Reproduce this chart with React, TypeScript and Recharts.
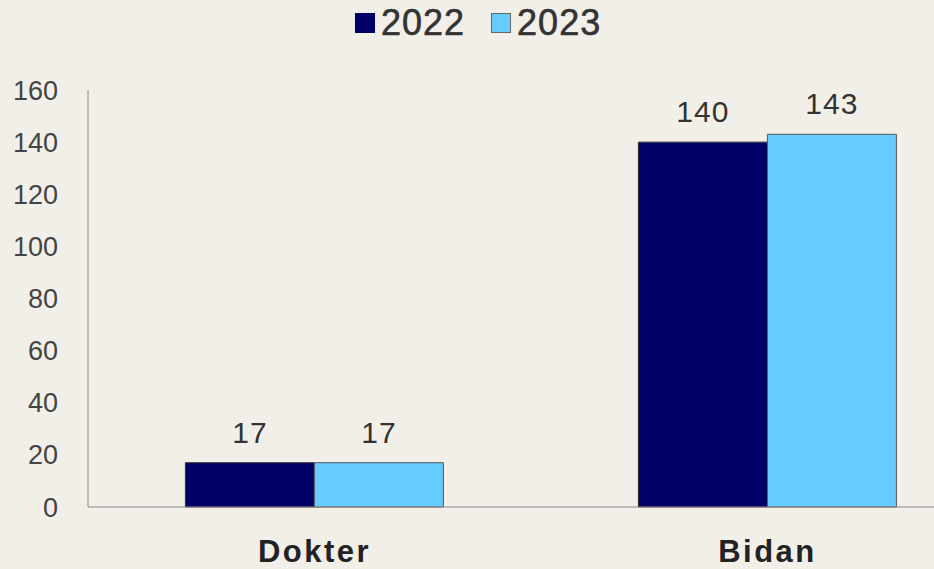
import { BarChart, Bar, XAxis, YAxis, LabelList } from "recharts";

const categories = ["Dokter", "Bidan"];
const values2022 = [17, 140];
const values2023 = [17, 143];
const yTicks = [0, 20, 40, 60, 80, 100, 120, 140, 160];

const data = categories.map((name, i) => ({
    name,
    y2022: values2022[i],
    y2023: values2023[i],
}));

const FONT = "'Liberation Sans', Arial, sans-serif";

export default function App() {
    return (
        <div
            style={{
                position: "fixed",
                left: 0,
                top: 0,
                width: 934,
                height: 569,
                overflow: "hidden",
                background: "#f2efe9",
                fontFamily: FONT,
            }}
        >
            {/* legend */}
            <div
                style={{
                    position: "absolute",
                    top: 2,
                    left: 355,
                    display: "flex",
                    alignItems: "center",
                    fontSize: 36,
                    color: "#333",
                    letterSpacing: 1,
                    WebkitTextStroke: "0.6px #333",
                }}
            >
                <span style={{ width: 20, height: 20, background: "#000066", display: "inline-block", marginRight: 6 }} />
                <span>2022</span>
                <span
                    style={{
                        width: 18,
                        height: 18,
                        background: "#66ccff",
                        border: "1px solid #666",
                        display: "inline-block",
                        marginLeft: 26,
                        marginRight: 6,
                    }}
                />
                <span>2023</span>
            </div>

            <BarChart
                width={1000}
                height={569}
                data={data}
                margin={{ top: 90, right: 6, bottom: 0, left: 28 }}
                barCategoryGap="21.5%"
                barGap={0}
            >
                <YAxis
                    width={60}
                    domain={[0, 160]}
                    ticks={yTicks}
                    interval={0}
                    axisLine={{ stroke: "#8a8a8a" }}
                    tickLine={false}
                    tickSize={0}
                    tickMargin={30}
                    tick={{ fill: "#444", fontSize: 27, fontFamily: FONT }}
                />
                <XAxis
                    dataKey="name"
                    height={62}
                    axisLine={{ stroke: "#8a8a8a" }}
                    tickLine={false}
                    tickSize={0}
                    tickMargin={33}
                    tick={{ fill: "#222", fontSize: 31, fontWeight: "bold", fontFamily: FONT, letterSpacing: 2.5 }}
                />
                <Bar dataKey="y2022" fill="#000066" stroke="#333" strokeWidth={1} isAnimationActive={false}>
                    <LabelList
                        dataKey="y2022"
                        position="top"
                        offset={20}
                        style={{ fill: "#333", fontSize: 30, fontFamily: FONT, letterSpacing: 1 }}
                    />
                </Bar>
                <Bar dataKey="y2023" fill="#66ccff" stroke="#555" strokeWidth={1} isAnimationActive={false}>
                    <LabelList
                        dataKey="y2023"
                        position="top"
                        offset={20}
                        style={{ fill: "#333", fontSize: 30, fontFamily: FONT, letterSpacing: 1 }}
                    />
                </Bar>
            </BarChart>
        </div>
    );
}
